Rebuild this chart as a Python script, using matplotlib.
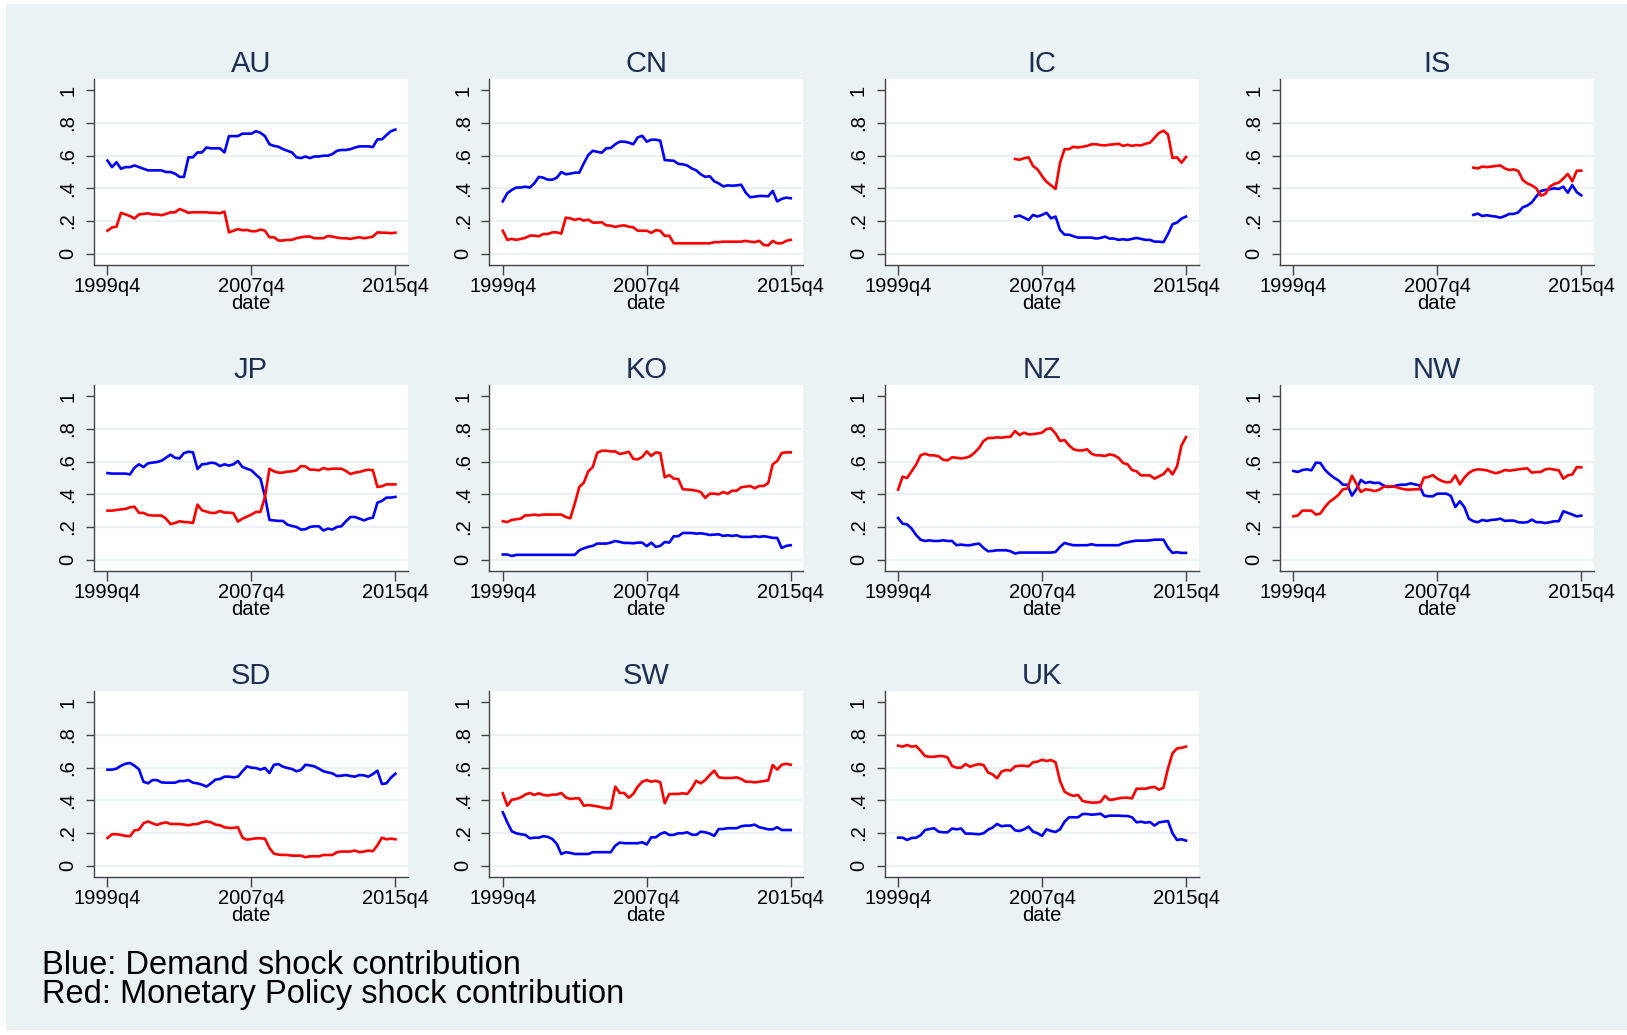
import numpy as np
import pandas as pd
import matplotlib
matplotlib.use("Agg")
from matplotlib import pyplot as plt
from matplotlib.patches import Rectangle

plt.rcParams["font.family"] = ["Liberation Sans", "DejaVu Sans"]

dates = pd.period_range("1999Q4", "2015Q4", freq="Q")
countries = ["AU", "CN", "IC", "IS", "JP", "KO", "NZ", "NW", "SD", "SW", "UK"]
starts = {"IC": "2006Q2", "IS": "2009Q4"}

# blue = demand shock contribution, red = monetary policy shock contribution
au_blue = [.57, .53, .56, .52, .53, .53, .54, .53, .52, .51, .51, .51, .51, .50, .50, .49, .47, .47, .59, .59,
           .62, .62, .65, .645, .645, .645, .62, .72, .72, .72, .735, .735, .735, .75, .74, .72, .67, .66, .655, .64,
           .63, .62, .59, .585, .595, .585, .595, .595, .60, .60, .61, .63, .635, .635, .64, .65, .657, .657, .657, .653,
           .70, .70, .726, .75, .76]
au_red = [.14, .16, .165, .25, .24, .23, .215, .24, .243, .247, .24, .24, .235, .243, .253, .253, .273, .263, .25, .253,
          .253, .253, .253, .25, .25, .247, .257, .13, .14, .15, .143, .145, .137, .137, .147, .14, .10, .10, .08, .08,
          .084, .084, .094, .10, .104, .104, .094, .094, .094, .108, .104, .098, .094, .094, .09, .096, .10, .094, .098, .104,
          .13, .128, .128, .125, .128]

cn_blue = [.32, .37, .39, .405, .405, .41, .405, .43, .47, .465, .453, .453, .465, .50, .486, .49, .496, .496, .553, .604,
           .63, .624, .618, .645, .647, .67, .686, .686, .68, .67, .712, .722, .686, .698, .698, .692, .573, .571, .569, .55,
           .547, .54, .522, .51, .486, .47, .474, .443, .43, .412, .418, .416, .418, .422, .373, .345, .349, .353, .353, .351,
           .384, .32, .335, .343, .339]
cn_red = [.14, .084, .09, .084, .09, .096, .11, .11, .106, .12, .12, .13, .13, .122, .22, .216, .206, .214, .202, .208,
          .19, .19, .192, .173, .171, .163, .17, .173, .165, .161, .14, .14, .14, .127, .143, .14, .108, .11, .063, .063,
          .063, .063, .063, .063, .063, .063, .063, .07, .07, .073, .073, .073, .073, .073, .078, .073, .07, .078, .053, .05,
          .078, .063, .063, .078, .084]

ic_blue = [.227, .233, .22, .206, .237, .227, .237, .25, .216, .227, .145, .116, .116, .106, .098, .098, .098, .098, .092, .096,
           .104, .092, .092, .084, .088, .084, .09, .096, .09, .084, .084, .073, .073, .07, .12, .18, .19, .214, .227]
ic_red = [.58, .575, .584, .59, .537, .516, .475, .44, .418, .396, .557, .64, .64, .655, .65, .655, .66, .67, .67, .665,
          .663, .667, .67, .673, .66, .667, .66, .665, .663, .673, .68, .71, .74, .753, .73, .586, .59, .557, .592]

is_blue = [.237, .245, .23, .235, .23, .227, .22, .23, .243, .243, .253, .284, .294, .314, .35, .384, .39, .394, .40, .396,
           .41, .373, .42, .376, .357]
is_red = [.527, .522, .533, .53, .533, .537, .54, .522, .512, .516, .506, .45, .43, .418, .40, .355, .365, .41, .427, .435,
          .46, .488, .443, .508, .508]

jp_blue = [.53, .527, .527, .527, .527, .522, .563, .584, .567, .59, .594, .598, .606, .624, .643, .624, .62, .653, .661, .657,
           .555, .584, .586, .594, .59, .573, .584, .576, .584, .604, .567, .557, .547, .52, .496, .388, .243, .24, .237, .237,
           .214, .206, .20, .184, .186, .20, .204, .204, .178, .19, .184, .20, .204, .235, .261, .261, .251, .24, .251, .257,
           .349, .359, .38, .38, .384]
jp_red = [.30, .30, .304, .308, .31, .32, .324, .286, .286, .273, .27, .27, .27, .251, .218, .224, .235, .23, .229, .224,
          .337, .302, .294, .286, .286, .298, .288, .288, .284, .233, .251, .263, .276, .292, .292, .384, .557, .541, .533, .533,
          .539, .541, .547, .573, .571, .551, .551, .547, .561, .553, .557, .557, .557, .543, .524, .533, .537, .545, .551, .547,
          .445, .449, .461, .461, .461]

ko_blue = [.031, .031, .022, .029, .029, .029, .029, .029, .029, .029, .029, .029, .029, .029, .029, .029, .029, .057, .069, .078,
           .084, .098, .098, .098, .104, .114, .108, .102, .102, .10, .104, .104, .082, .104, .078, .084, .108, .104, .143, .143,
           .163, .163, .163, .159, .161, .157, .151, .153, .155, .145, .149, .145, .149, .139, .139, .139, .143, .139, .143, .139,
           .133, .133, .071, .084, .088]
ko_red = [.235, .23, .243, .247, .251, .271, .271, .276, .271, .276, .276, .276, .276, .276, .261, .253, .343, .445, .471, .541,
          .567, .655, .667, .667, .663, .663, .647, .653, .661, .618, .614, .629, .663, .635, .657, .653, .504, .518, .496, .494,
          .431, .429, .427, .422, .414, .378, .404, .404, .40, .414, .404, .422, .422, .443, .447, .451, .437, .451, .451, .469,
          .584, .604, .653, .657, .657]

nz_blue = [.255, .22, .216, .19, .151, .122, .114, .118, .114, .114, .118, .114, .114, .088, .092, .088, .088, .094, .098, .071,
           .051, .053, .057, .057, .057, .051, .037, .043, .043, .043, .043, .043, .043, .043, .043, .047, .078, .102, .094, .088,
           .088, .088, .088, .094, .088, .088, .088, .088, .088, .088, .10, .106, .112, .116, .116, .116, .118, .122, .122, .122,
           .073, .041, .045, .041, .041]
nz_red = [.429, .508, .50, .541, .582, .639, .649, .639, .639, .633, .612, .608, .627, .624, .62, .624, .633, .655, .684, .727,
          .745, .745, .749, .747, .751, .753, .788, .763, .778, .767, .769, .773, .778, .80, .804, .773, .727, .733, .70, .676,
          .669, .669, .676, .649, .639, .639, .635, .645, .639, .624, .592, .584, .549, .541, .516, .516, .516, .496, .51, .524,
          .557, .522, .571, .70, .751]

nw_blue = [.543, .537, .549, .553, .547, .594, .592, .551, .524, .502, .486, .459, .459, .392, .431, .488, .469, .476, .469, .471,
           .455, .445, .447, .455, .459, .459, .467, .461, .455, .394, .388, .388, .404, .404, .404, .39, .322, .357, .322, .251,
           .235, .229, .243, .237, .243, .245, .251, .237, .239, .239, .229, .227, .229, .245, .229, .229, .224, .229, .235, .235,
           .296, .286, .276, .265, .269]
nw_red = [.265, .271, .30, .30, .30, .276, .282, .322, .353, .373, .396, .431, .435, .514, .465, .414, .431, .427, .42, .427,
          .445, .449, .449, .443, .435, .429, .429, .431, .431, .502, .506, .518, .496, .482, .473, .476, .516, .461, .502, .531,
          .547, .553, .551, .547, .537, .529, .537, .549, .545, .549, .553, .557, .559, .533, .537, .537, .553, .557, .551, .547,
          .496, .516, .522, .567, .565]

sd_blue = [.588, .588, .594, .612, .624, .629, .612, .59, .514, .504, .524, .524, .51, .508, .508, .508, .518, .518, .524, .508,
           .504, .496, .484, .504, .527, .531, .545, .545, .541, .545, .578, .608, .60, .598, .588, .598, .567, .618, .622, .606,
           .598, .592, .578, .586, .618, .614, .608, .594, .578, .571, .565, .549, .551, .555, .549, .545, .555, .553, .545, .561,
           .582, .50, .504, .539, .563]
sd_red = [.169, .192, .192, .188, .182, .18, .216, .22, .259, .271, .259, .249, .259, .265, .255, .255, .255, .251, .247, .253,
          .255, .265, .271, .265, .251, .247, .235, .231, .231, .235, .171, .159, .163, .167, .167, .165, .108, .073, .067, .065,
          .065, .061, .061, .061, .051, .057, .057, .057, .065, .065, .065, .082, .086, .086, .086, .092, .082, .086, .092, .088,
          .124, .171, .161, .165, .161]

sw_blue = [.327, .265, .21, .198, .192, .188, .167, .171, .171, .18, .176, .163, .133, .071, .082, .078, .071, .071, .071, .071,
           .082, .082, .082, .082, .082, .122, .141, .137, .137, .137, .137, .143, .129, .173, .173, .194, .204, .188, .188, .198,
           .198, .204, .19, .188, .208, .204, .196, .182, .224, .224, .229, .229, .229, .241, .245, .245, .251, .235, .229, .222,
           .222, .235, .218, .218, .218]
sw_red = [.443, .367, .404, .408, .418, .435, .445, .433, .443, .433, .429, .435, .435, .445, .418, .408, .412, .412, .367, .371,
          .367, .363, .357, .351, .351, .484, .445, .445, .416, .439, .484, .514, .524, .514, .52, .51, .382, .439, .439, .439,
          .443, .439, .473, .52, .504, .524, .555, .582, .541, .537, .537, .537, .541, .531, .514, .514, .51, .514, .518, .522,
          .616, .588, .618, .624, .618]

uk_blue = [.171, .171, .157, .169, .171, .186, .218, .224, .229, .208, .204, .204, .227, .222, .227, .196, .196, .194, .192, .198,
           .22, .233, .255, .241, .245, .245, .216, .212, .222, .239, .208, .198, .182, .222, .212, .206, .222, .269, .296, .296,
           .296, .316, .316, .312, .314, .318, .298, .306, .306, .306, .304, .304, .296, .265, .269, .263, .267, .245, .265, .269,
           .273, .198, .157, .161, .153]
uk_red = [.735, .729, .739, .729, .733, .704, .671, .667, .667, .671, .671, .663, .61, .60, .60, .622, .606, .616, .622, .616,
          .571, .559, .535, .576, .586, .582, .608, .612, .612, .608, .633, .637, .649, .641, .647, .633, .518, .453, .437, .427,
          .433, .396, .39, .386, .386, .39, .427, .402, .406, .412, .416, .416, .412, .471, .471, .471, .478, .482, .465, .478,
          .596, .688, .718, .722, .729]

blue = {"AU": au_blue, "CN": cn_blue, "IC": ic_blue, "IS": is_blue, "JP": jp_blue, "KO": ko_blue,
        "NZ": nz_blue, "NW": nw_blue, "SD": sd_blue, "SW": sw_blue, "UK": uk_blue}
red = {"AU": au_red, "CN": cn_red, "IC": ic_red, "IS": is_red, "JP": jp_red, "KO": ko_red,
       "NZ": nz_red, "NW": nw_red, "SD": sd_red, "SW": sw_red, "UK": uk_red}

yticks = [0, .2, .4, .6, .8, 1]
ytick_labels = ["0", ".2", ".4", ".6", ".8", "1"]
xticks = ["1999Q4", "2007Q4", "2015Q4"]

bg = "#eaf2f3"
W, H = 1627, 1035
fig = plt.figure(figsize=(W / 100, H / 100), dpi=100, facecolor="white")
fig.patches.append(Rectangle((6 / W, 5 / H), 1 - 6 / W, 1 - 9 / H, transform=fig.transFigure,
                             facecolor=bg, edgecolor="none", zorder=-10))

x_all = np.arange(len(dates))
for k, c in enumerate(countries):
    row, col = k // 4, k % 4
    ax = fig.add_axes([(94 + 395.3 * col) / W, 1 - (265 + 306 * row) / H, 314 / W, 186 / H])
    ax.set_facecolor("white")

    i0 = dates.get_loc(pd.Period(starts.get(c, "1999Q4"), freq="Q"))
    x = x_all[i0:i0 + len(blue[c])]
    for y in yticks[:-1]:
        ax.axhline(y, color=bg, lw=1.6, zorder=0)
    ax.plot(x, blue[c], color="blue", lw=1.9)
    ax.plot(x, red[c], color="red", lw=1.9)

    ax.set_xlim(-3, 66.8)
    ax.set_ylim(-0.07, 1.07)
    ax.set_xticks([dates.get_loc(pd.Period(q, freq="Q")) for q in xticks])
    ax.set_xticklabels([q.replace("Q", "q") for q in xticks], fontsize=14.5)
    ax.set_yticks(yticks)
    ax.set_yticklabels(ytick_labels, fontsize=14.5, rotation=90, va="center")
    ax.tick_params(axis="x", length=7, width=1, color="#444444", pad=2)
    ax.tick_params(axis="y", length=6, width=1, color="#444444", pad=6)
    ax.set_xlabel("date", fontsize=14.5, labelpad=-2)
    ax.set_title(c, fontsize=21, color="#1e2d52", pad=5)
    for s in ["top", "right"]:
        ax.spines[s].set_visible(False)
    for s in ["left", "bottom"]:
        ax.spines[s].set_color("#444444")
        ax.spines[s].set_linewidth(1)

fig.text(42 / W, 1 - 966 / H, "Blue: Demand shock contribution", fontsize=23.5, va="center")
fig.text(42 / W, 1 - 995 / H, "Red: Monetary Policy shock contribution", fontsize=23.5, va="center")

fig.savefig("out.png", dpi=100, facecolor="white")
